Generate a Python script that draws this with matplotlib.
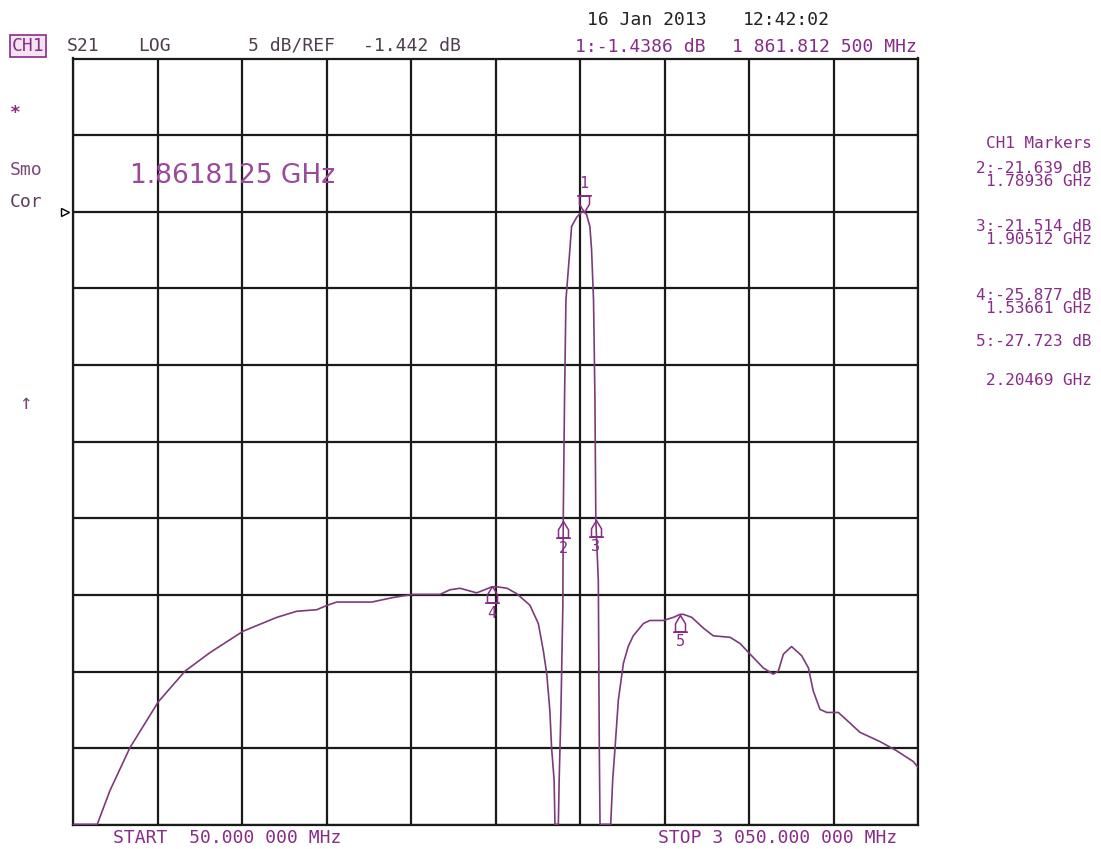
import numpy as np
import matplotlib.pyplot as plt
from matplotlib.path import Path
from matplotlib.transforms import blended_transform_factory

# S21 trace
freq_mhz = [50, 135, 180, 251, 352, 447, 535, 653, 772, 843, 914, 953, 985,
            1109, 1186, 1254, 1352, 1387, 1423, 1482, 1510, 1536.6, 1553, 1590,
            1624, 1671, 1701, 1719, 1731, 1742, 1748, 1757, 1760, 1772, 1775,
            1781, 1788, 1789.4, 1794, 1799, 1813, 1819, 1837, 1852, 1861.8,
            1872, 1884, 1890, 1897, 1902, 1905.1, 1908, 1914, 1917.5, 1920,
            1958, 1965, 1973, 1985, 2003, 2020, 2038, 2074, 2097, 2145, 2180,
            2204.7, 2216, 2246, 2287, 2322, 2382, 2417, 2453, 2500, 2535, 2553,
            2571, 2600, 2636, 2660, 2677, 2701, 2725, 2766, 2796, 2843, 2914,
            2973, 3032, 3050]
s21_db = [-41.4, -41.4, -39.2, -36.4, -33.4, -31.4, -30.2, -28.8, -27.9, -27.5,
          -27.4, -27.1, -26.9, -26.9, -26.6, -26.4, -26.4, -26.1, -26.0, -26.3,
          -26.1, -25.9, -25.9, -26.0, -26.35, -27.1, -28.3, -30.1, -31.6, -34.0,
          -36.4, -38.5, -41.4, -41.4, -38.5, -34.2, -27.2, -21.6, -13.7, -7.2,
          -3.9, -2.4, -1.8, -1.5, -1.44, -1.6, -2.4, -3.9, -7.2, -13.7, -21.5,
          -22.9, -25.5, -36.5, -41.4, -41.4, -38.5, -36.5, -33.3, -30.9, -29.8,
          -29.1, -28.3, -28.1, -28.1, -27.9, -27.7, -27.7, -27.9, -28.6, -29.1,
          -29.2, -29.6, -30.3, -31.2, -31.6, -31.4, -30.3, -29.8, -30.4, -31.2,
          -32.7, -33.9, -34.1, -34.1, -34.6, -35.4, -36.0, -36.6, -37.3, -37.7]

# markers
mk_num = [1, 2, 3, 4, 5]
mk_freq = [1861.8125, 1789.36, 1905.12, 1536.61, 2204.69]
mk_db = [-1.4386, -21.639, -21.514, -25.877, -27.723]

start_mhz = 50.0
stop_mhz = 3050.0
ref_db = -1.442
scale_db = 5.0

purple = '#872c87'
trace_col = '#7b3b79'
mono = 'DejaVu Sans Mono'

W, H = 1101, 849
fig = plt.figure(figsize=(W / 100, H / 100), dpi=100)
left, top, right, bottom = 73.3, 58.5, 918.3, 825.0
ax = fig.add_axes([left / W, 1 - bottom / H, (right - left) / W, (bottom - top) / H])

ax.set_xlim(start_mhz, stop_mhz)
ax.set_ylim(ref_db - 8 * scale_db, ref_db + 2 * scale_db)
ax.set_xticks(np.linspace(start_mhz, stop_mhz, 11))
ax.set_yticks(ref_db + scale_db * np.arange(-8, 3))
ax.grid(True, color='#1a1a1a', lw=1.6)
ax.tick_params(length=0, labelbottom=False, labelleft=False)
for sp in ax.spines.values():
    sp.set_color('#1a1a1a')
    sp.set_linewidth(1.6)

ax.plot(freq_mhz, s21_db, color=trace_col, lw=1.2, zorder=3)

# marker symbols, tip sitting on the trace
verts = [(0, 0), (-0.3, -0.5), (-0.3, -1), (0.3, -1), (0.3, -0.5), (0, 0),
         (-0.45, -1), (0.45, -1)]
codes = [Path.MOVETO] + [Path.LINETO] * 5 + [Path.MOVETO, Path.LINETO]
up_mark = Path(verts, codes)
down_mark = Path([(x, -y) for x, y in verts], codes)

for n, f, d in zip(mk_num, mk_freq, mk_db):
    m = down_mark if n == 1 else up_mark
    ax.plot([f], [d], marker=m, ms=24, mfc='none', mec=purple, mew=1.1,
            zorder=4, clip_on=False)
    dy = 20.5 if n == 1 else -19.5
    ax.annotate(str(n), (f, d), xytext=(0, dy), textcoords='offset points',
                ha='center', va='center', color=purple, fontsize=11,
                family=mono)

# reference position arrow
tr = blended_transform_factory(ax.transAxes, ax.transData)
ax.plot([-0.010], [ref_db], transform=tr, marker='>', ms=6, mfc='none',
        mec='black', mew=1.0, clip_on=False)


def put(x, y, s, **kw):
    kw.setdefault('family', mono)
    kw.setdefault('fontsize', 13)
    kw.setdefault('va', 'center')
    fig.text(x / W, 1 - y / H, s, **kw)


# header
put(12, 46, 'CH1', color=purple,
    bbox=dict(boxstyle='square,pad=0.1', fc='#f3e3f3', ec=purple, lw=1.2))
put(67, 46, 'S21', color='#4e3e4e')
put(138, 46, 'LOG', color='#4e3e4e')
put(248, 46, '5 dB/REF', color='#4e3e4e')
put(363, 46, '-1.442 dB', color='#4e3e4e')
put(587, 20, '16 Jan 2013', color='#222222')
put(743, 20, '12:42:02', color='#222222')
put(575, 47, '1:-1.4386 dB', color=purple)
put(732, 47, '1 861.812 500 MHz', color=purple)

# left annotations
put(10, 113, '*', color=purple, fontweight='bold')
put(10, 170, 'Smo', color='#7a4a7a')
put(10, 202, 'Cor', color='#5e3e5e')
put(25, 403, '\u2191', color='#7a4a7a', ha='center', fontsize=15)

# active marker readout
put(130, 176, '1.8618125 GHz', family='DejaVu Sans', fontsize=19,
    color='#9b4a9b')

# marker table
tbl = dict(color=purple, ha='right', fontsize=11.5, multialignment='right',
           linespacing=0.82)
put(1092, 143, 'CH1 Markers', **tbl)
put(1092, 175, '2:-21.639 dB\n1.78936 GHz', **tbl)
put(1092, 233, '3:-21.514 dB\n1.90512 GHz', **tbl)
put(1092, 302, '4:-25.877 dB\n1.53661 GHz', **tbl)
put(1092, 341, '5:-27.723 dB', **tbl)
put(1092, 380, '2.20469 GHz', **tbl)

# footer
put(113, 838, 'START  50.000 000 MHz', color=purple)
put(658, 838, 'STOP 3 050.000 000 MHz', color=purple)

fig.savefig('out.png', dpi=100)
